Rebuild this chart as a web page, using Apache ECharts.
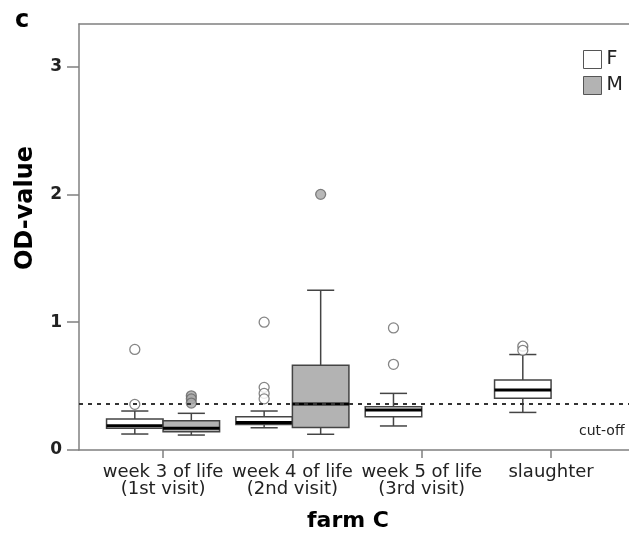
<!DOCTYPE html>
<html><head><meta charset="utf-8">
<script src="https://cdn.jsdelivr.net/npm/echarts@6/dist/echarts.min.js"></script>
<style>html,body{margin:0;padding:0;background:#fff;overflow:hidden}#c{width:629px;height:536px}</style>
</head><body><div id="c"></div>
<script>
// ---- data ----
const categories = ['week 3 of life\n(1st visit)', 'week 4 of life\n(2nd visit)', 'week 5 of life\n(3rd visit)', 'slaughter'];
const yTicks = [0, 1, 2, 3];
// [min whisker, Q1, median, Q3, max whisker]
const boxF = [
  [0.125, 0.17, 0.19, 0.242, 0.305],
  [0.174, 0.20, 0.216, 0.26, 0.305],
  [0.188, 0.26, 0.312, 0.338, 0.443],
  [0.294, 0.404, 0.469, 0.547, 0.747]
];
const boxM = [
  [0.117, 0.143, 0.17, 0.229, 0.287],
  [0.123, 0.177, 0.36, 0.664, 1.25],
  null,
  null
];
// outliers: [category index, value]
const outF = [[0, 0.787], [0, 0.357], [1, 1.0], [1, 0.49], [1, 0.443], [1, 0.40], [2, 0.955], [2, 0.67], [3, 0.812], [3, 0.78]];
const outM = [[0, 0.424], [0, 0.40], [0, 0.367], [1, 2.0]];
const cutOff = 0.36;

// ---- layout / style ----
const BOX_W = 0.437;
const OFF = BOX_W / 2;
const FONT = 'DejaVu Sans';
const AXIS_COLOR = '#808080';

function boxData(arr, off) {
  const d = [];
  arr.forEach((b, i) => { if (b) d.push([i + 1 + off].concat(b)); });
  return d;
}
function outData(arr, off) {
  return arr.map(p => [p[0] + 1 + off, p[1]]);
}
function makeRender(fill) {
  return function (params, api) {
    const x = api.value(0);
    const pMin = api.coord([x, api.value(1)]);
    const pQ1 = api.coord([x, api.value(2)]);
    const pMed = api.coord([x, api.value(3)]);
    const pQ3 = api.coord([x, api.value(4)]);
    const pMax = api.coord([x, api.value(5)]);
    const w = api.size([BOX_W, 0])[0];
    const cx = pMin[0];
    const left = cx - w / 2;
    const cap = w * 0.24;
    const ls = { stroke: '#444', lineWidth: 1.5 };
    return {
      type: 'group', children: [
        { type: 'line', shape: { x1: cx, y1: pMax[1], x2: cx, y2: pQ3[1] }, style: ls },
        { type: 'line', shape: { x1: cx, y1: pQ1[1], x2: cx, y2: pMin[1] }, style: ls },
        { type: 'line', shape: { x1: cx - cap, y1: pMax[1], x2: cx + cap, y2: pMax[1] }, style: ls },
        { type: 'line', shape: { x1: cx - cap, y1: pMin[1], x2: cx + cap, y2: pMin[1] }, style: ls },
        { type: 'rect', shape: { x: left, y: pQ3[1], width: w, height: pQ1[1] - pQ3[1] }, style: { fill: fill, stroke: '#444', lineWidth: 1.5 } },
        { type: 'line', shape: { x1: left, y1: pMed[1], x2: left + w, y2: pMed[1] }, style: { stroke: '#000', lineWidth: 3 } }
      ]
    };
  };
}

const chart = echarts.init(document.getElementById('c'), null, { renderer: 'canvas' });
chart.setOption({
  animation: false,
  backgroundColor: '#fff',
  grid: { left: 79, top: 24, width: 562.6, height: 426, outerBoundsMode: 'none', containLabel: false, show: false },
  legend: {
    orient: 'vertical', left: 583, top: 50, itemWidth: 18, itemHeight: 18, itemGap: 7, padding: 0,
    selectedMode: false,
    textStyle: { fontFamily: FONT, fontSize: 19, color: '#222' },
    data: [
      { name: 'F', icon: 'rect', itemStyle: { color: '#fff', borderColor: '#555', borderWidth: 1 } },
      { name: 'M', icon: 'rect', itemStyle: { color: '#b3b3b3', borderColor: '#555', borderWidth: 1 } }
    ]
  },
  xAxis: [{
    type: 'value', min: 0.35, max: 4.7, position: 'bottom',
    splitLine: { show: false },
    axisLine: { show: true, lineStyle: { color: AXIS_COLOR, width: 1.5 } },
    axisTick: { show: true, length: 8, lineStyle: { color: AXIS_COLOR, width: 1.5 }, customValues: [1, 2, 3, 4] },
    axisLabel: {
      customValues: [1, 2, 3, 4],
      formatter: v => categories[Math.round(v) - 1] || '',
      fontFamily: FONT, fontSize: 18, lineHeight: 17, color: '#222', margin: 14
    }
  }, {
    type: 'value', min: 0.35, max: 4.7, position: 'top',
    splitLine: { show: false },
    axisLine: { show: true, onZero: false, lineStyle: { color: AXIS_COLOR, width: 1.5 } },
    axisTick: { show: false },
    axisLabel: { show: false }
  }],
  yAxis: {
    type: 'value', min: 0, max: 3.333, interval: 1,
    splitLine: { show: false },
    axisLine: { show: true, lineStyle: { color: AXIS_COLOR, width: 1.5 } },
    axisTick: { show: true, length: 12, lineStyle: { color: AXIS_COLOR, width: 1.5 }, customValues: yTicks },
    axisLabel: { customValues: yTicks, fontFamily: FONT, fontSize: 17, fontWeight: 'bold', color: '#222', margin: 17 }
  },
  series: [
    {
      name: 'F', type: 'custom', renderItem: makeRender('#ffffff'),
      encode: { x: 0, y: [1, 2, 3, 4, 5] }, data: boxData(boxF, -OFF), z: 3,
      itemStyle: { color: '#fff', borderColor: '#555' },
      markLine: {
        silent: true, symbol: 'none', label: { show: false },
        lineStyle: { color: '#333', width: 1.8, type: [4, 5] },
        data: [{ yAxis: cutOff }]
      }
    },
    {
      name: 'M', type: 'custom', renderItem: makeRender('#b3b3b3'),
      encode: { x: 0, y: [1, 2, 3, 4, 5] }, data: boxData(boxM, OFF), z: 3,
      itemStyle: { color: '#b3b3b3', borderColor: '#555' }
    },
    {
      name: 'F', type: 'scatter', data: outData(outF, -OFF), symbol: 'circle', symbolSize: 10, z: 4,
      itemStyle: { color: '#fff', borderColor: '#666', borderWidth: 1.3 }
    },
    {
      name: 'M', type: 'scatter', data: outData(outM, OFF), symbol: 'circle', symbolSize: 10, z: 4,
      itemStyle: { color: '#a6a6a6', borderColor: '#666', borderWidth: 1.3 }
    }
  ],
  graphic: [
    { type: 'text', left: 15, top: 9, style: { text: 'c', font: 'bold 24px "DejaVu Sans"', fill: '#000' } },
    { type: 'text', x: 26, y: 208, rotation: Math.PI / 2, style: { text: 'OD-value', font: 'bold 24px "DejaVu Sans"', fill: '#000', align: 'center', verticalAlign: 'middle' } },
    { type: 'text', x: 348, y: 521, style: { text: 'farm C', font: 'bold 22px "DejaVu Sans"', fill: '#000', align: 'center', verticalAlign: 'middle' } },
    { type: 'text', x: 579, y: 431, style: { text: 'cut-off', font: '14px "DejaVu Sans"', fill: '#222', align: 'left', verticalAlign: 'middle' } }
  ]
});
</script>
</body></html>
